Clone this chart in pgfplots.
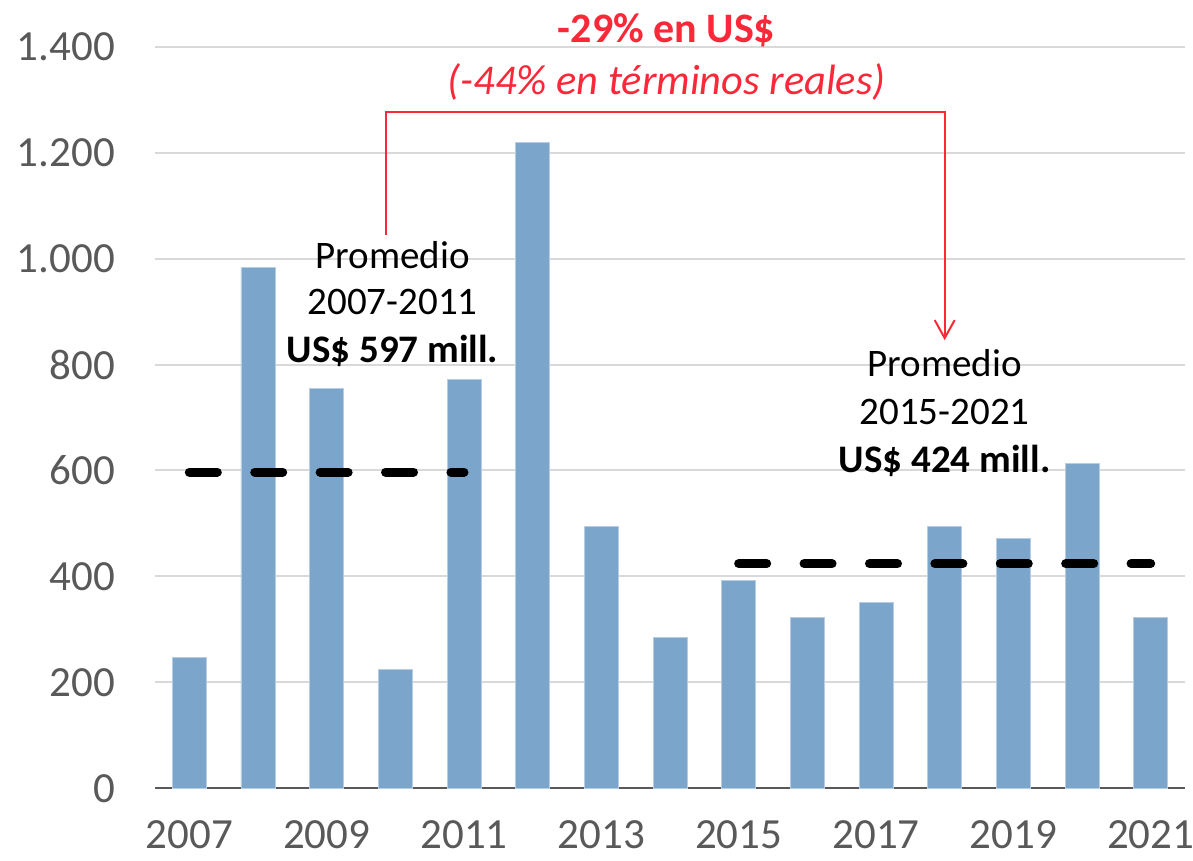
\documentclass[border=0pt]{standalone}
\usepackage{fontspec}
\setmainfont{Carlito}
\usepackage{pgfplots}
\pgfplotsset{compat=1.18}
\usetikzlibrary{arrows.meta}

\definecolor{barblue}{RGB}{124,165,204}
\definecolor{tickgray}{RGB}{89,89,89}
\definecolor{gridgray}{RGB}{217,217,217}
\definecolor{annred}{RGB}{250,40,56}

\begin{document}
\begin{tikzpicture}
\begin{axis}[
  scale only axis, width=515pt, height=370.8pt,
  xmin=2006.5, xmax=2021.5, ymin=0, ymax=1400,
  xtick={2007,2009,...,2021}, ytick={0,200,...,1400},
  axis x line*=bottom, axis y line*=left,
  y axis line style={draw=none},
  x axis line style={tickgray, line width=1pt},
  major tick length=0pt,
  ymajorgrids, grid style={gridgray, line width=1pt},
  tick label style={font=\fontsize{21.5}{21.5}\selectfont, text=tickgray},
  xticklabel style={yshift=-15pt, inner sep=1pt, /pgf/number format/1000 sep={}},
  yticklabel style={xshift=-16.5pt},
  scaled ticks=false, clip=false,
  /pgf/number format/.cd, assume math mode=true, 1000 sep={.}
]
\addplot[ybar, bar width=17pt, fill=barblue, draw=barblue!55!white, line width=0.4pt]
  coordinates {(2007,247) (2008,983) (2009,755) (2010,225) (2011,772)
               (2012,1219) (2013,494) (2014,285) (2015,392) (2016,323)
               (2017,351) (2018,494) (2019,472) (2020,613) (2021,323)};
% promedios
\addplot[black, line width=4.5pt, line cap=round, dash pattern=on 14pt off 18.7pt]
  coordinates {(2007,597) (2011,597)};
\addplot[black, line width=4.5pt, line cap=round, dash pattern=on 14pt off 18.7pt]
  coordinates {(2015,424) (2021,424)};

\draw[annred, line width=1pt, -{Straight Barb[length=9pt,width=10pt]}]
  (axis cs:2009.86,1045) |- (axis cs:2018,1277) -- (axis cs:2018,846);

\node[anchor=base, text=annred, font=\fontsize{21}{21}\selectfont\bfseries]
  at (axis cs:2013.95,1407) {-29\% en US\$};
\node[anchor=base, text=annred, font=\fontsize{21.2}{21}\selectfont\itshape]
  at (axis cs:2013.95,1309) {(-44\% en términos reales)};

\node[anchor=base, font=\fontsize{19.5}{19}\selectfont] at (axis cs:2009.96,982) {Promedio};
\node[anchor=base, font=\fontsize{19.5}{19}\selectfont] at (axis cs:2009.96,893.5) {2007-2011};
\node[anchor=base, font=\fontsize{19.5}{19}\selectfont\bfseries] at (axis cs:2009.96,803) {US\$ 597 mill.};

\node[anchor=base, font=\fontsize{19.5}{19}\selectfont] at (axis cs:2018,776.5) {Promedio};
\node[anchor=base, font=\fontsize{19.5}{19}\selectfont] at (axis cs:2018,686) {2015-2021};
\node[anchor=base, font=\fontsize{19.5}{19}\selectfont\bfseries] at (axis cs:2018,596) {US\$ 424 mill.};

\coordinate (sw) at (rel axis cs:0,0);
\coordinate (ne) at (rel axis cs:1,1);
\end{axis}
\pgfresetboundingbox
\path ([xshift=-77.5pt,yshift=-36.35pt]sw) rectangle ([xshift=4pt,yshift=23.35pt]ne);
\end{tikzpicture}
\end{document}
